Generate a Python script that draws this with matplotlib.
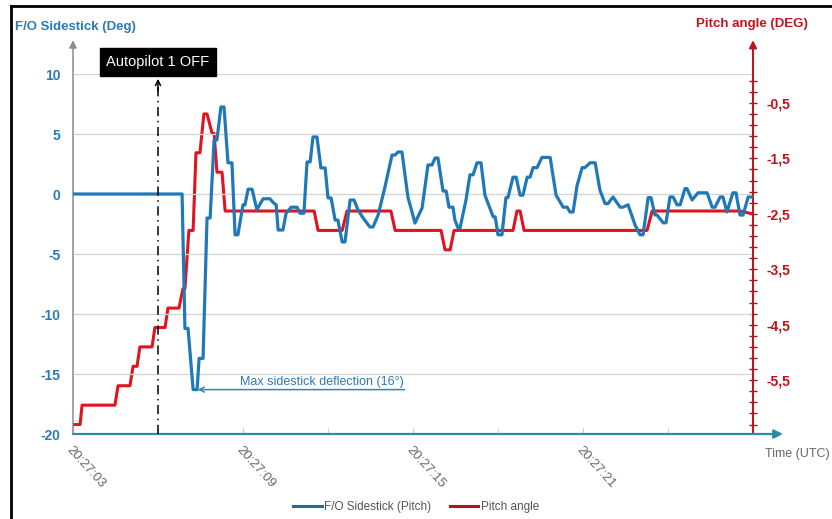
import matplotlib
matplotlib.use("Agg")
import matplotlib.pyplot as plt
from matplotlib.lines import Line2D
from matplotlib.ticker import FixedLocator, FuncFormatter

plt.rcParams['font.family'] = ['Liberation Sans', 'DejaVu Sans']
plt.rcParams['axes.unicode_minus'] = False

# seconds after 20:27:03 and F/O sidestick pitch input (deg)
stick_t = [0.0, 3.85, 3.95, 4.06, 4.24, 4.38, 4.45, 4.59, 4.73, 4.84, 4.98, 5.08,
           5.22, 5.33, 5.47, 5.61, 5.72, 5.82, 6.0, 6.07, 6.18, 6.32, 6.49, 6.71,
           6.95, 7.06, 7.17, 7.24, 7.41, 7.52, 7.70, 7.91, 8.01, 8.15, 8.26, 8.37,
           8.47, 8.61, 8.75, 8.9, 9.0, 9.11, 9.25, 9.35, 9.5, 9.6, 9.78, 9.92,
           10.06, 10.24, 10.48, 10.59, 10.77, 11.01, 11.26, 11.37, 11.47, 11.61,
           11.82, 12.07, 12.32, 12.53, 12.67, 12.78, 12.88, 13.06, 13.17, 13.27,
           13.41, 13.48, 13.59, 13.66, 13.87, 14.01, 14.12, 14.26, 14.4, 14.54,
           14.83, 14.9, 15.0, 15.14, 15.28, 15.35, 15.53, 15.64, 15.78, 15.88,
           16.03, 16.13, 16.24, 16.38, 16.55, 16.84, 17.05, 17.3, 17.44, 17.54,
           17.65, 17.79, 17.97, 18.07, 18.25, 18.43, 18.6, 18.78, 18.88, 19.06,
           19.31, 19.41, 19.59, 19.84, 20.01, 20.12, 20.3, 20.4, 20.54, 20.61,
           20.83, 20.93, 21.07, 21.18, 21.32, 21.43, 21.6, 21.67, 21.85, 22.06,
           22.38, 22.56, 22.66, 22.84, 22.94, 23.08, 23.29, 23.4, 23.54, 23.65,
           23.83, 23.97]
stick = [0, 0, -11.2, -11.2, -16.3, -16.3, -13.7, -13.7, -2.0, -2.0, 4.5, 4.5,
         7.25, 7.25, 2.6, 2.6, -3.4, -3.4, -0.9, -0.9, 0.4, 0.4, -1.3, -0.4,
         -0.4, -0.7, -0.9, -3.0, -3.0, -1.6, -1.1, -1.1, -1.6, -1.6, 2.67, 2.67,
         4.75, 4.75, 2.17, 2.17, -0.33, -0.33, -2.17, -2.17, -4.0, -4.0, -0.5, -0.5,
         -1.33, -2.0, -2.75, -2.75, -1.75, 0.58, 3.25, 3.25, 3.5, 3.5,
         -0.25, -2.42, -1.17, 2.42, 2.42, 3.0, 3.0, 0.25, 0.25, -1.1,
         -1.1, -2.17, -2.83, -2.83, -0.5, 1.6, 1.6, 2.6, 2.6, -0.1,
         -1.9, -1.9, -3.4, -3.4, -0.3, -0.3, 1.4, 1.4, -0.1, -0.1,
         1.4, 1.4, 2.2, 2.2, 3.05, 3.05, -0.1, -1.1, -1.1, -1.5,
         -1.5, 0.7, 2.2, 2.2, 2.6, 2.6, 0.3, -0.8, -0.8, -0.25,
         -1.1, -1.1, -0.9, -2.6, -3.4, -3.4, -0.3, -0.3, -1.75, -1.75,
         -2.4, -2.4, -0.25, -0.25, -0.9, -0.9, 0.45, 0.45, -0.5, 0.1,
         0.1, -1.1, -1.1, -0.25, -0.25, -1.5, 0.1, 0.1, -1.75, -1.75,
         -0.25, -0.25]

# seconds after 20:27:03 and pitch attitude (deg)
pitch_t = [0.0, 0.25, 0.32, 1.48, 1.59, 2.01, 2.12, 2.26, 2.36, 2.79, 2.89, 3.25,
           3.35, 3.74, 3.88, 3.95, 4.09, 4.24, 4.34, 4.48, 4.62, 4.73, 4.91, 4.98,
           5.08, 5.26, 5.37, 8.51, 8.65, 9.5, 9.67, 11.22, 11.37, 12.99, 13.13,
           13.31, 13.45, 15.53, 15.67, 15.78, 15.92, 20.26, 20.44, 23.54, 23.97]
pitch = [-6.3, -6.3, -5.95, -5.95, -5.6, -5.6, -5.25, -5.25, -4.9, -4.9, -4.55, -4.55,
         -4.2, -4.2, -3.85, -3.85, -2.8, -2.8, -1.4, -1.4, -0.7, -0.7, -1.05, -1.05,
         -1.75, -1.75, -2.45, -2.45, -2.8, -2.8, -2.45, -2.45, -2.8, -2.8, -3.15,
         -3.15, -2.8, -2.8, -2.45, -2.45, -2.8, -2.8, -2.45, -2.45, -2.5]

time_ticks = [0, 6, 12, 18]
time_labels = ['20:27:03', '20:27:09', '20:27:15', '20:27:21']
stick_ticks = [-20, -15, -10, -5, 0, 5, 10]
pitch_ticks = [-5.5, -4.5, -3.5, -2.5, -1.5, -0.5]
autopilot_off_t = 3.0
max_deflection = -16.3

blue = '#1f78b8'
red = '#e0141e'
pitch_col = '#c8101a'
teal = '#2a8ca8'
grey = '#666666'

fig = plt.figure(figsize=(8.32, 5.19), dpi=100)
ax = fig.add_axes([73 / 832, 85 / 519, 680 / 832, 360 / 519])
ax2 = ax.twinx()

ax.set_xlim(0, 24)
ax.set_ylim(-20, 10)
ax2.set_ylim(-6.47, 0.02)

for a in (ax, ax2):
    for s in a.spines.values():
        s.set_visible(False)
    a.patch.set_visible(False)

ax.set_zorder(2)
ax2.set_zorder(1)

# horizontal grid
for v in stick_ticks[1:]:
    ax.axhline(v, color='#d4d4d4', lw=0.9, zorder=0)

ax2.plot(pitch_t, pitch, color=red, lw=2.2, solid_joinstyle='round', zorder=3)
ax.plot(stick_t, stick, color=blue, lw=2.3, solid_joinstyle='round', zorder=4)

# axes with arrow heads
ax.annotate('', xy=(0, 1.094), xytext=(0, 0), xycoords='axes fraction',
            arrowprops=dict(arrowstyle='-|>', color='#8a8a8a', lw=1.1, mutation_scale=11,
                            shrinkA=0, shrinkB=0), annotation_clip=False)
ax.annotate('', xy=(1, 1.094), xytext=(1, 0), xycoords='axes fraction',
            arrowprops=dict(arrowstyle='-|>', color='#c0101a', lw=1.4, mutation_scale=11,
                            shrinkA=0, shrinkB=0), annotation_clip=False)
ax.annotate('', xy=(1.044, 0), xytext=(0, 0), xycoords='axes fraction',
            arrowprops=dict(arrowstyle='-|>', color=teal, lw=1.6, mutation_scale=13,
                            shrinkA=0, shrinkB=0), annotation_clip=False)

# left axis
ax.set_yticks(stick_ticks)
ax.tick_params(axis='y', length=0, pad=9, labelcolor='#2a7ab8', labelsize=10)
for lb in ax.get_yticklabels():
    lb.set_fontweight('bold')

# time axis
ax.set_xticks(time_ticks)
ax.set_xticklabels([])
ax.xaxis.set_minor_locator(FixedLocator([3, 9, 15, 21]))
ax.tick_params(axis='x', which='both', direction='in', length=4, color='#c8c8c8')
for t, lab in zip(time_ticks, time_labels):
    ax.annotate(lab, xy=(t, -20), xytext=(-3, -10), textcoords='offset points',
                rotation=-48, rotation_mode='anchor', ha='left', va='center',
                fontsize=9.5, color=grey, annotation_clip=False)

# right axis
ax2.yaxis.set_major_locator(FixedLocator(pitch_ticks))
ax2.yaxis.set_minor_locator(FixedLocator([-6.3 + 0.2 * i for i in range(32)]))
ax2.yaxis.set_major_formatter(FuncFormatter(lambda v, p: f'{v:.1f}'.replace('.', ',')))
ax2.tick_params(axis='y', which='both', direction='inout', length=6, width=1,
                color='#a8101a', pad=7, labelcolor=pitch_col, labelsize=10)
for lb in ax2.get_yticklabels():
    lb.set_fontweight('bold')

fig.text(15 / 832, 1 - 27 / 519, 'F/O Sidestick (Deg)', color='#2a7ab8', fontsize=9.5,
         fontweight='bold', va='center', ha='left')
fig.text(808 / 832, 1 - 24 / 519, 'Pitch angle (DEG)', color=pitch_col, fontsize=9.5,
         fontweight='bold', va='center', ha='right')
fig.text(797 / 832, 1 - 454 / 519, 'Time (UTC)', color=grey, fontsize=9,
         va='center', ha='center')

# autopilot disconnect marker
ax.plot([autopilot_off_t, autopilot_off_t], [-20, 9.2], color='black', lw=1.1,
        ls=(0, (6, 3, 1, 3)), zorder=5)
ax.annotate('', xy=(autopilot_off_t, 9.6), xytext=(autopilot_off_t, 8.6),
            arrowprops=dict(arrowstyle='->', color='black', lw=1.1, mutation_scale=9,
                            shrinkA=0, shrinkB=0), zorder=5)
ax.text(autopilot_off_t, 11.0, 'Autopilot 1 OFF', ha='center', va='center', color='white',
        fontsize=10.5, bbox=dict(boxstyle='square,pad=0.45', fc='black', ec='black'),
        zorder=6, clip_on=False)

# max deflection callout
ax.annotate('', xy=(4.4, max_deflection), xytext=(11.7, max_deflection),
            arrowprops=dict(arrowstyle='->', color=teal, lw=1.1, mutation_scale=9,
                            shrinkA=0, shrinkB=0), zorder=5)
ax.text(5.9, max_deflection + 0.15, 'Max sidestick deflection (16°)', ha='left', va='bottom',
        color='#2a7ab8', fontsize=9)

handles = [Line2D([], [], color='#236c94', lw=2.2), Line2D([], [], color='#b0141c', lw=2.2)]
fig.legend(handles, ['F/O Sidestick (Pitch)', 'Pitch angle'], loc='center',
           bbox_to_anchor=(0.5, 1 - 507 / 519), ncol=2, frameon=False, fontsize=8.5,
           handlelength=2.4, handletextpad=0.2, columnspacing=1.6, labelcolor='#555555')

# page frame
fig.add_artist(Line2D([11 / 832, 11 / 832], [0, 1 - 6 / 519], color='black', lw=2))
fig.add_artist(Line2D([11 / 832, 1], [1 - 6 / 519, 1 - 6 / 519], color='black', lw=2))

fig.savefig('out.png', dpi=100)
